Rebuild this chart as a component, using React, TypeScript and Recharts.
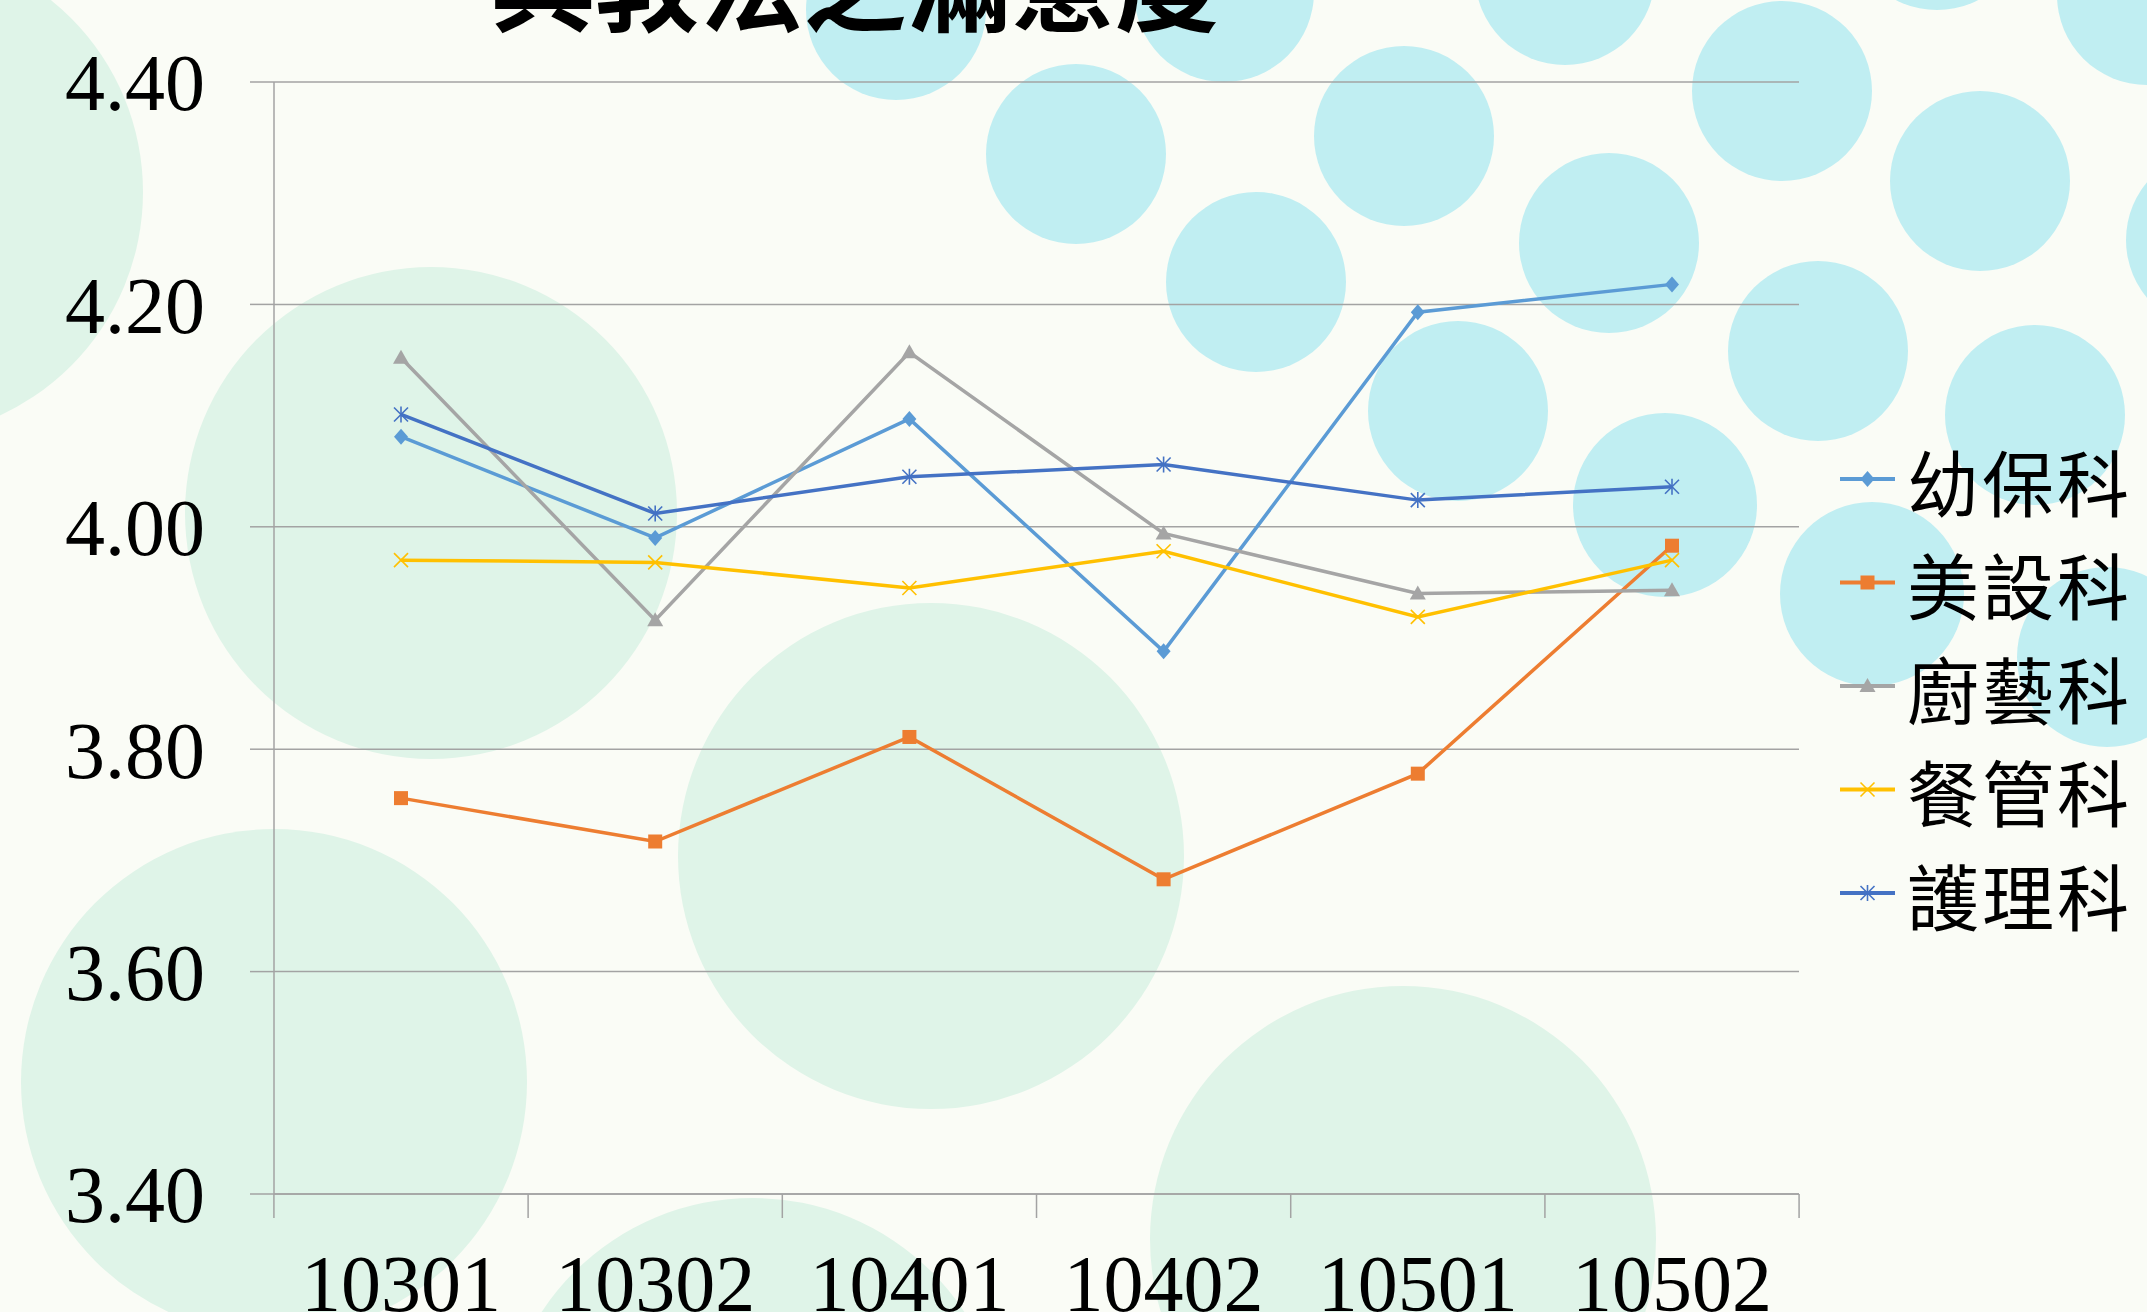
import React from 'react';
import { LineChart, Line, XAxis, YAxis, CartesianGrid } from 'recharts';

// ---- data ----
const CATEGORIES = ['10301', '10302', '10401', '10402', '10501', '10502'];
const YOUBAO = [4.081, 3.99, 4.097, 3.888, 4.193, 4.218]; // 幼保科
const MEISHE = [3.756, 3.717, 3.811, 3.683, 3.778, 3.983]; // 美設科
const CHUYI = [4.152, 3.916, 4.157, 3.994, 3.94, 3.943]; // 廚藝科
const CANGUAN = [3.97, 3.968, 3.945, 3.978, 3.919, 3.97]; // 餐管科
const HULI = [4.101, 4.012, 4.045, 4.056, 4.024, 4.036]; // 護理科
const SERIES_NAMES = ['幼保科', '美設科', '廚藝科', '餐管科', '護理科'];
const Y_TICKS = [3.4, 3.6, 3.8, 4.0, 4.2, 4.4];
const TITLE = '與教法之滿意度';

// ---- styling ----
const W = 2147;
const H = 1312;
const COLORS = ['#5B9BD5', '#ED7D31', '#A5A5A5', '#FFC000', '#4472C4'];
const SHAPES = ['diamond', 'square', 'triangle', 'x', 'star'];
const VALUES = [YOUBAO, MEISHE, CHUYI, CANGUAN, HULI];
const GRID = '#A3A3A3';
const SERIF = '"Liberation Serif", "Times New Roman", serif';
const CJK = '"Noto Sans CJK TC", "Noto Sans CJK SC", sans-serif';

const data = CATEGORIES.map((c, i) => {
  const row: Record<string, any> = { cat: c };
  VALUES.forEach((v, k) => {
    row['s' + k] = v[i];
  });
  return row;
});

// decorative background
const GREEN = '#DFF4E8';
const CYAN = '#C0EEF2';
const GREEN_CIRCLES = [
  [-103, 192, 246],
  [431, 513, 246],
  [931, 856, 253],
  [274, 1082, 253],
  [1403, 1239, 253],
  [753, 1451, 253],
];
const CYAN_CIRCLES = [
  [896, 10, 90],
  [1076, 154, 90],
  [1256, 282, 90],
  [1224, -8, 90],
  [1404, 136, 90],
  [1458, 411, 90],
  [1565, -25, 90],
  [1609, 243, 90],
  [1782, 91, 90],
  [1818, 351, 90],
  [1665, 505, 92],
  [1980, 181, 90],
  [2035, 415, 90],
  [1872, 594, 92],
  [2107, 657, 90],
  [2216, 240, 90],
  [2147, -5, 90],
  [1937, -80, 90],
];

function Marker({ shape, cx, cy, color, s = 7 }: any) {
  switch (shape) {
    case 'diamond':
      return <polygon points={`${cx},${cy - s - 1} ${cx + s},${cy} ${cx},${cy + s + 1} ${cx - s},${cy}`} fill={color} />;
    case 'square':
      return <rect x={cx - s} y={cy - s} width={2 * s} height={2 * s} fill={color} />;
    case 'triangle':
      return <polygon points={`${cx},${cy - s - 1} ${cx + s + 1},${cy + s - 1} ${cx - s - 1},${cy + s - 1}`} fill={color} />;
    case 'x':
      return (
        <g stroke={color} strokeWidth={1.6}>
          <line x1={cx - s} y1={cy - s} x2={cx + s} y2={cy + s} />
          <line x1={cx - s} y1={cy + s} x2={cx + s} y2={cy - s} />
        </g>
      );
    default:
      return (
        <g stroke={color} strokeWidth={1.6}>
          <line x1={cx} y1={cy - s - 1} x2={cx} y2={cy + s + 1} />
          <line x1={cx - s} y1={cy - s} x2={cx + s} y2={cy + s} />
          <line x1={cx - s} y1={cy + s} x2={cx + s} y2={cy - s} />
        </g>
      );
  }
}

const makeDot = (k: number) => (props: any) => {
  const { cx, cy, index } = props;
  return (
    <g key={`dot-${k}-${index}`}>
      <Marker shape={SHAPES[k]} cx={cx} cy={cy} color={COLORS[k]} />
    </g>
  );
};

const X_TICK_SIZE = 24;
const X_TICK_MARGIN = 36;

const XTick = (props: any) => {
  const { x, y, payload, index, visibleTicksCount, width } = props;
  const count = visibleTicksCount || CATEGORIES.length;
  const half = (width || 1525) / (2 * count);
  const axisY = y - X_TICK_SIZE - X_TICK_MARGIN;
  return (
    <g>
      <line x1={x - half} x2={x - half} y1={axisY} y2={axisY + X_TICK_SIZE} stroke={GRID} strokeWidth={1.5} />
      {index === count - 1 && (
        <line x1={x + half} x2={x + half} y1={axisY} y2={axisY + X_TICK_SIZE} stroke={GRID} strokeWidth={1.5} />
      )}
      <text x={x} y={y} dy="0.71em" textAnchor="middle" fill="#000" fontSize={80} fontFamily={SERIF}>
        {payload.value}
      </text>
    </g>
  );
};

export default function App() {
  const legendTop = 479;
  const legendStep = 103.5;
  return (
    <div style={{ position: 'absolute', left: 0, top: 0, width: W, height: H, overflow: 'hidden' }}>
      <svg width={W} height={H} style={{ position: 'absolute', left: 0, top: 0 }}>
        <rect x={0} y={0} width={W} height={H} fill="#FAFCF6" />
        {GREEN_CIRCLES.map(([x, y, r], i) => (
          <circle key={'g' + i} cx={x} cy={y} r={r} fill={GREEN} />
        ))}
        {CYAN_CIRCLES.map(([x, y, r], i) => (
          <circle key={'c' + i} cx={x} cy={y} r={r} fill={CYAN} />
        ))}
        <text x={855} y={24} textAnchor="middle" fontSize={104} fontWeight="bold" fontFamily={CJK} fill="#000">
          {TITLE}
        </text>
      </svg>
      <div style={{ position: 'absolute', left: 0, top: 0 }}>
        <LineChart width={W} height={H} data={data} margin={{ top: 82, right: 348, bottom: 0, left: 0 }}>
          <CartesianGrid vertical={false} stroke={GRID} strokeWidth={1.5} />
          <XAxis
            dataKey="cat"
            height={118}
            padding={{ left: 127, right: 127 }}
            axisLine={{ stroke: GRID, strokeWidth: 1.5 }}
            tickLine={false}
            tickSize={X_TICK_SIZE}
            tickMargin={X_TICK_MARGIN}
            tick={<XTick />}
            interval={0}
          />
          <YAxis
            width={274}
            domain={[3.4, 4.4]}
            ticks={Y_TICKS}
            allowDataOverflow
            tickFormatter={(v: number) => v.toFixed(2)}
            axisLine={{ stroke: GRID, strokeWidth: 1.5 }}
            tickLine={{ stroke: GRID, strokeWidth: 1.5 }}
            tickSize={24}
            tickMargin={45}
            tick={{ fill: '#000', fontSize: 80, fontFamily: SERIF }}
          />
          {SERIES_NAMES.map((name, k) => (
            <Line
              key={name}
              dataKey={'s' + k}
              name={name}
              type="linear"
              stroke={COLORS[k]}
              strokeWidth={3.5}
              dot={makeDot(k)}
              activeDot={false}
              isAnimationActive={false}
            />
          ))}
        </LineChart>
      </div>
      <svg width={W} height={H} style={{ position: 'absolute', left: 0, top: 0, pointerEvents: 'none' }}>
        {SERIES_NAMES.map((name, k) => {
          const y = legendTop + k * legendStep;
          return (
            <g key={name}>
              <line x1={1840} x2={1895} y1={y} y2={y} stroke={COLORS[k]} strokeWidth={4} />
              <Marker shape={SHAPES[k]} cx={1867.5} cy={y} color={COLORS[k]} />
              <text
                x={1907}
                y={y}
                dominantBaseline="central"
                fontSize={72}
                letterSpacing={3}
                fontFamily={CJK}
                fill="#000"
              >
                {name}
              </text>
            </g>
          );
        })}
      </svg>
    </div>
  );
}
